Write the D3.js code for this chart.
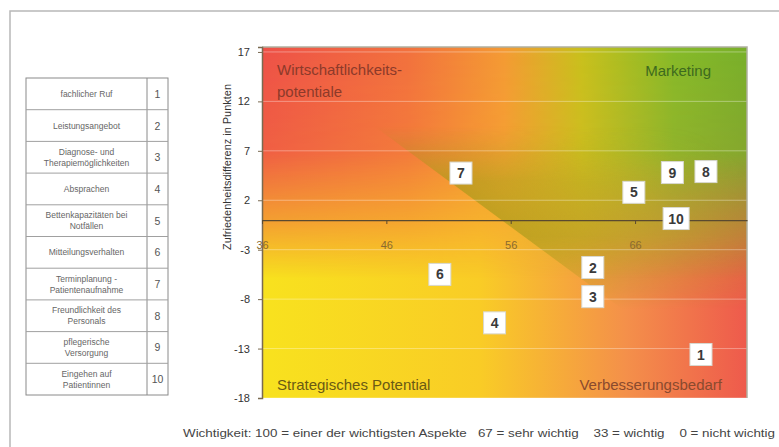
<!DOCTYPE html>
<html>
<head>
<meta charset="utf-8">
<script src="https://cdn.jsdelivr.net/npm/d3@7"></script>
<style>
  html, body { margin: 0; padding: 0; background: #fff; }
  svg { display: block; font-family: "Liberation Sans", Arial, sans-serif; }
</style>
</head>
<body>
<div id="chart"></div>
<script>
// aspects (left legend table) and their position in the portfolio
const aspectIds = [1, 2, 3, 4, 5, 6, 7, 8, 9, 10];
const aspectNames = [
    ["fachlicher Ruf"],
    ["Leistungsangebot"],
    ["Diagnose- und", "Therapiemöglichkeiten"],
    ["Absprachen"],
    ["Bettenkapazitäten bei", "Notfällen"],
    ["Mitteilungsverhalten"],
    ["Terminplanung -", "Patientenaufnahme"],
    ["Freundlichkeit des", "Personals"],
    ["pflegerische", "Versorgung"],
    ["Eingehen auf", "Patientinnen"]
];
const importance = [71.3, 62.6, 62.6, 54.7, 65.9, 50.3, 52.0, 71.7, 69.0, 69.3];
const satisfactionDiff = [-13.6, -4.8, -7.75, -10.4, 2.8, -5.5, 4.75, 4.9, 4.8, 0.15];

const xTicks = [36, 46, 56, 66];
const yTicks = [17, 12, 7, 2, -3, -8, -13, -18];
const xDomain = [36, 75];
const yDomain = [-18, 17.5];

const yTitle = "Zufriedenheitsdifferenz in Punkten";
const footNote = "Wichtigkeit: 100 = einer der wichtigsten Aspekte   67 = sehr wichtig    33 = wichtig    0 = nicht wichtig";

const W = 779, H = 447;
const plot = { left: 262, right: 747, top: 47, bottom: 398 };

const svg = d3.select("#chart").append("svg")
    .attr("width", W)
    .attr("height", H);

const x = d3.scaleLinear().domain(xDomain).range([plot.left, plot.right]);
const y = d3.scaleLinear().domain(yDomain).range([plot.bottom, plot.top]);

const defs = svg.append("defs");

function linGrad(id, stops, dir) {
    const g = defs.append("linearGradient").attr("id", id);
    const d = dir || [0, 0, 1, 0];
    g.attr("x1", d[0]).attr("y1", d[1]).attr("x2", d[2]).attr("y2", d[3]);
    if (d.length > 4) g.attr("gradientUnits", "userSpaceOnUse");
    stops.forEach(s => g.append("stop")
        .attr("offset", s[0])
        .attr("stop-color", s[1])
        .attr("stop-opacity", s[2] === undefined ? 1 : s[2]));
    return g;
}

const VERT = [0, 0, 0, 1];
linGrad("gBottom", [[0, "#f8e21e"], [0.45, "#f9cc26"], [0.75, "#f4904a"], [1, "#ee5a4c"]]);
linGrad("gTop", [[0, "#ee5048"], [0.3, "#f2703e"], [0.5, "#f49a34"], [0.66, "#c8c01c"], [0.85, "#86ba28"], [1, "#78b02a"]]);
linGrad("gFade", [[0, "#fff", 1], [0.3, "#fff", 0.9], [0.5, "#fff", 0.45], [0.66, "#fff", 0]], VERT);
linGrad("gDiagV", [[0, "#fff", 0], [0.3, "#fff", 1], [0.6, "#fff", 1], [1, "#fff", 0]], VERT);

// diagonal border of the marketing zone (line through ~(50.9, 4.05), slope -0.927 in data units)
const diagTop = 9.5, diagBottom = -9;
const diagX = v => 50.9 - (v - 4.05) / 0.927;
const p0 = [x(diagX(4.05)), y(4.05)];
const p1 = [x(diagX(-6.4)), y(-6.4)];
const dx = p1[0] - p0[0], dy = p1[1] - p0[1], len = Math.hypot(dx, dy);
const nrm = [dy / len * 190, -dx / len * 190]; // perpendicular, toward upper right
linGrad("gDiag", [[0, "#a09818", 0.6], [0.5, "#a8a818", 0.3], [1, "#a8b020", 0]],
    [p0[0], p0[1], p0[0] + Math.abs(nrm[0]), p0[1] - Math.abs(nrm[1]), "user"]);

defs.append("mask").attr("id", "mFade")
    .append("rect")
    .attr("x", plot.left).attr("y", plot.top)
    .attr("width", plot.right - plot.left).attr("height", plot.bottom - plot.top)
    .attr("fill", "url(#gFade)");

defs.append("mask").attr("id", "mDiag")
    .attr("maskUnits", "userSpaceOnUse")
    .attr("x", plot.left).attr("y", plot.top)
    .attr("width", plot.right - plot.left).attr("height", plot.bottom - plot.top)
    .append("rect")
    .attr("x", plot.left).attr("y", y(diagTop))
    .attr("width", plot.right - plot.left).attr("height", y(diagBottom) - y(diagTop))
    .attr("fill", "url(#gDiagV)");

defs.append("clipPath").attr("id", "cPlot")
    .append("rect")
    .attr("x", plot.left).attr("y", plot.top)
    .attr("width", plot.right - plot.left).attr("height", plot.bottom - plot.top);

// outer frame
svg.append("rect")
    .attr("x", 10).attr("y", 11)
    .attr("width", W + 10).attr("height", H + 10)
    .attr("fill", "none")
    .attr("stroke", "#b8b8b8")
    .attr("stroke-width", 1.5);

// coloured background of the portfolio
const bg = svg.append("g").attr("clip-path", "url(#cPlot)");
bg.append("rect")
    .attr("x", plot.left).attr("y", plot.top)
    .attr("width", plot.right - plot.left).attr("height", plot.bottom - plot.top)
    .attr("fill", "url(#gBottom)");
bg.append("rect")
    .attr("x", plot.left).attr("y", plot.top)
    .attr("width", plot.right - plot.left).attr("height", plot.bottom - plot.top)
    .attr("fill", "url(#gTop)")
    .attr("mask", "url(#mFade)");

bg.append("path")
    .attr("d", d3.line()([
        [x(diagX(diagTop)), y(diagTop)],
        [x(xDomain[1]), y(diagTop)],
        [x(xDomain[1]), y(diagBottom)],
        [x(diagX(diagBottom)), y(diagBottom)]
    ]) + "Z")
    .attr("fill", "url(#gDiag)")
    .attr("mask", "url(#mDiag)");

// light grid lines
bg.selectAll("line.grid")
    .data(yTicks)
    .enter().append("line")
    .attr("class", "grid")
    .attr("x1", plot.left).attr("x2", plot.right)
    .attr("y1", d => y(d)).attr("y2", d => y(d))
    .attr("stroke", "#fff")
    .attr("stroke-opacity", 0.35)
    .attr("stroke-width", 1);

// plot frame top/right
svg.append("path")
    .attr("d", `M${plot.left},${plot.top}H${plot.right}V${plot.bottom}`)
    .attr("fill", "none")
    .attr("stroke", "#b0b0a0")
    .attr("stroke-width", 1.5);

// y axis
const yAxis = svg.append("g")
    .attr("transform", `translate(${plot.left},0)`)
    .call(d3.axisLeft(y).tickValues(yTicks).tickSize(4).tickPadding(8).tickFormat(d => String(d)));
yAxis.select(".domain").attr("stroke", "#7a6a50").attr("stroke-width", 1.5);
yAxis.selectAll(".tick line").attr("stroke", "#7a6a50");
yAxis.selectAll(".tick text").attr("font-size", 11).attr("fill", "#333")
    .attr("font-family", "'Liberation Sans', Arial, sans-serif");

// x axis on the zero line
const xAxis = svg.append("g")
    .attr("transform", `translate(0,${y(0)})`)
    .call(d3.axisBottom(x).tickValues(xTicks).tickSize(4).tickPadding(17).tickSizeOuter(0));
xAxis.select(".domain").attr("stroke", "#5a4a30").attr("stroke-width", 1.2);
xAxis.selectAll(".tick line").attr("stroke", "#5a4a30");
xAxis.selectAll(".tick text").attr("font-size", 11).attr("fill", "#8a6a30")
    .attr("font-family", "'Liberation Sans', Arial, sans-serif");

// y axis title
svg.append("text")
    .attr("transform", "translate(231,167) rotate(-90)")
    .attr("text-anchor", "middle")
    .attr("font-size", 10)
    .attr("fill", "#333")
    .attr("textLength", 166)
    .attr("lengthAdjust", "spacingAndGlyphs")
    .text(yTitle);

// quadrant names
const quad = svg.append("g").attr("font-size", 15);
quad.append("text").attr("x", 277).attr("y", 75).attr("fill", "#8c3a2a").text("Wirtschaftlichkeits-");
quad.append("text").attr("x", 277).attr("y", 97).attr("fill", "#8c3a2a").text("potentiale");
quad.append("text").attr("x", 711).attr("y", 76).attr("text-anchor", "end").attr("fill", "#3d6a1e").text("Marketing");
quad.append("text").attr("x", 277).attr("y", 390).attr("fill", "#6a5a14").text("Strategisches Potential");
quad.append("text").attr("x", 722).attr("y", 390).attr("text-anchor", "end").attr("fill", "#8a4a2e").text("Verbesserungsbedarf");

// point labels (numbered boxes)
const points = aspectIds.map((id, i) => ({ id, x: importance[i], y: satisfactionDiff[i] }));
const pt = svg.selectAll("g.pt")
    .data(points)
    .enter().append("g")
    .attr("class", "pt")
    .attr("transform", d => `translate(${x(d.x)},${y(d.y)})`);
pt.append("rect")
    .attr("x", d => d.id >= 10 ? -13 : -11)
    .attr("y", -11)
    .attr("width", d => d.id >= 10 ? 26 : 22)
    .attr("height", 22)
    .attr("fill", "#fff")
    .attr("stroke", "#d8d8d0")
    .attr("stroke-width", 1);
pt.append("text")
    .attr("text-anchor", "middle")
    .attr("dy", "0.36em")
    .attr("font-size", 14)
    .attr("font-weight", "bold")
    .attr("fill", "#3a3a3a")
    .text(d => d.id);

// legend table
const tbl = { left: 26, right: 168, split: 147, top: 78, bottom: 395 };
const rowH = (tbl.bottom - tbl.top) / aspectIds.length;
const table = svg.append("g");
table.append("rect")
    .attr("x", tbl.left).attr("y", tbl.top)
    .attr("width", tbl.right - tbl.left).attr("height", tbl.bottom - tbl.top)
    .attr("fill", "#fff")
    .attr("stroke", "#8a8a8a");
table.append("line")
    .attr("x1", tbl.split).attr("x2", tbl.split)
    .attr("y1", tbl.top).attr("y2", tbl.bottom)
    .attr("stroke", "#8a8a8a");
const rows = table.selectAll("g.row")
    .data(aspectIds)
    .enter().append("g")
    .attr("class", "row")
    .attr("transform", (d, i) => `translate(0,${tbl.top + i * rowH})`);
rows.filter((d, i) => i > 0).append("line")
    .attr("x1", tbl.left).attr("x2", tbl.right)
    .attr("stroke", "#a0a0a0");
rows.append("text")
    .attr("x", (tbl.left + tbl.split) / 2)
    .attr("text-anchor", "middle")
    .attr("font-size", 8.5)
    .attr("fill", "#666")
    .each(function (d, i) {
        const lines = aspectNames[i];
        const t = d3.select(this);
        lines.forEach((l, k) => {
            t.append("tspan")
                .attr("x", (tbl.left + tbl.split) / 2)
                .attr("y", rowH / 2 + 3 + (k - (lines.length - 1) / 2) * 11)
                .text(l);
        });
    });
rows.append("text")
    .attr("x", (tbl.split + tbl.right) / 2)
    .attr("y", rowH / 2 + 4)
    .attr("text-anchor", "middle")
    .attr("font-size", 10.5)
    .attr("fill", "#555")
    .text(d => d);

// footnote
svg.append("text")
    .attr("x", 183).attr("y", 437)
    .attr("font-size", 11)
    .attr("fill", "#444")
    .attr("textLength", 592)
    .attr("lengthAdjust", "spacingAndGlyphs")
    .style("white-space", "pre")
    .text(footNote);
</script>
</body>
</html>
